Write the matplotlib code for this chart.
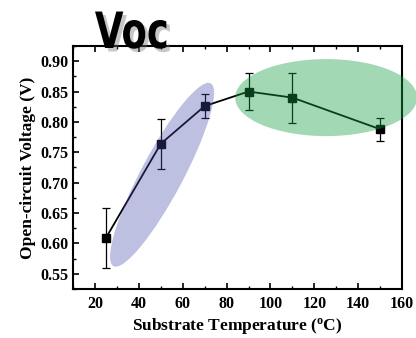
import numpy as np
import matplotlib
matplotlib.use("Agg")
import matplotlib.pyplot as plt
import matplotlib.patheffects as pe
from matplotlib.colors import to_rgba
from matplotlib.patches import Ellipse
from matplotlib.ticker import MultipleLocator, FormatStrFormatter
from matplotlib.transforms import IdentityTransform, Affine2D

# data
temperature = [25, 50, 70, 90, 110, 150]
voc = [0.609, 0.764, 0.826, 0.850, 0.840, 0.788]
voc_err = [0.050, 0.041, 0.020, 0.031, 0.041, 0.019]

plt.rcParams["font.family"] = ["Liberation Serif", "DejaVu Serif"]
plt.rcParams["font.weight"] = "bold"


class Squeeze(pe.AbstractPathEffect):
    """Draw text narrower (condensed look), optionally as an offset shadow."""

    def __init__(self, sx, x0, offset=(0, 0), color=None, alpha=None):
        super().__init__(offset)
        self.sx, self.x0 = sx, x0
        self.color = None if color is None else to_rgba(color)
        self.alpha = alpha

    def draw_path(self, renderer, gc, tpath, affine, rgbFace=None):
        aff = (affine + Affine2D().translate(-self.x0, 0).scale(self.sx, 1)
               .translate(self.x0, 0) + self._offset_transform(renderer))
        gc0 = renderer.new_gc()
        gc0.copy_properties(gc)
        if self.color is not None:
            rgbFace = self.color
            gc0.set_foreground(self.color)
        if self.alpha is not None:
            gc0.set_alpha(self.alpha)
        renderer.draw_path(gc0, tpath, aff, rgbFace)
        gc0.restore()


fig = plt.figure(figsize=(4.16, 3.38), dpi=100)
ax = fig.add_axes([0.1755, 0.145, 0.791, 0.719])

ax.errorbar(temperature, voc, yerr=voc_err, color="black", lw=1.3,
            marker="s", markersize=6, elinewidth=0.9, capsize=2.6, capthick=0.9,
            zorder=3)

ax.set_xlim(10, 160)
ax.set_ylim(0.525, 0.925)
ax.xaxis.set_major_locator(MultipleLocator(20))
ax.xaxis.set_minor_locator(MultipleLocator(10))
ax.yaxis.set_major_locator(MultipleLocator(0.05))
ax.yaxis.set_minor_locator(MultipleLocator(0.025))
ax.yaxis.set_major_formatter(FormatStrFormatter("%.2f"))
ax.tick_params(which="both", direction="in", top=True, right=False, labelsize=11.5)
ax.tick_params(which="major", length=4, width=1.2)
ax.tick_params(which="minor", length=2.5, width=1.0)
ax.tick_params(axis="x", pad=5)
for s in ax.spines.values():
    s.set_linewidth(1.5)

ax.set_xlabel(r"Substrate Temperature ($\mathregular{^{o}}$C)", fontsize=12.5,
              fontweight="bold", labelpad=3)
ax.set_ylabel("Open-circuit Voltage (V)", fontsize=12.5, fontweight="bold", labelpad=3)

# highlight ellipses (sizes in pixels, centres in data units)
fig.canvas.draw()
cx, cy = ax.transData.transform((50.6, 0.713))
blue = Ellipse((cx, cy), 207, 42, angle=62, transform=IdentityTransform(),
               facecolor=(70/255, 77/255, 170/255), alpha=0.35, lw=0, zorder=4,
               clip_on=False)
fig.add_artist(blue)
gx, gy = ax.transData.transform((125.4, 0.840))
green = Ellipse((gx, gy), 182, 77, angle=0, transform=IdentityTransform(),
                facecolor=(25/255, 158/255, 70/255), alpha=0.4, lw=0, zorder=4,
                clip_on=False)
fig.add_artist(green)

tx = 0.228
x0 = tx * fig.bbox.width
fig.text(tx, 0.858, "Voc", fontsize=36, fontweight="bold",
         family="DejaVu Sans", color="black", zorder=10,
         path_effects=[Squeeze(0.74, x0, offset=(2.5, -2.5), color="0.45", alpha=0.4),
                       Squeeze(0.74, x0)])

fig.savefig("out.png", dpi=100)
